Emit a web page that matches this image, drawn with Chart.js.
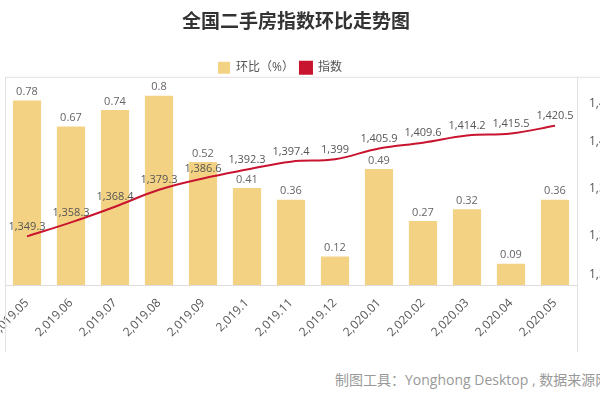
<!DOCTYPE html>
<html>
<head>
<meta charset="utf-8">
<script src="https://cdn.jsdelivr.net/npm/chart.js@4"></script>
<style>
  html, body { margin: 0; padding: 0; background: #fff; overflow: hidden; width: 600px; height: 400px; }
  #wrap { position: absolute; left: -35px; top: 0; width: 662px; height: 357px; }
  #note { position: absolute; left: 335px; top: 369px; white-space: nowrap; font: 14px "Open Sans", "Noto Sans CJK SC", sans-serif; color: #999; }
</style>
</head>
<body>
<div id="wrap"><canvas id="trendChart"></canvas></div>
<div id="note">制图工具：Yonghong Desktop , 数据来源网络</div>
<script>
// categories and series
const months = ['2,019.05', '2,019.06', '2,019.07', '2,019.08', '2,019.09', '2,019.1', '2,019.11',
                '2,019.12', '2,020.01', '2,020.02', '2,020.03', '2,020.04', '2,020.05'];
const momChange = [0.78, 0.67, 0.74, 0.8, 0.52, 0.41, 0.36, 0.12, 0.49, 0.27, 0.32, 0.09, 0.36];
const indexValues = [1349.3, 1358.3, 1368.4, 1379.3, 1386.6, 1392.3, 1397.4, 1399, 1405.9, 1409.6, 1414.2, 1415.5, 1420.5];
const indexTicks = [1325, 1350, 1380, 1410, 1435];

const baseFont = '"Open Sans", "Noto Sans CJK SC", sans-serif';
const barColor = '#F3D283';
const lineColor = '#C8142F';

// the built-in legend keeps 10px of dead space under it; trim it so the plot sits closer,
// and nudge it a little left like the original
const tightLegend = {
    id: 'tightLegend',
    beforeUpdate(chart) {
        const lg = chart.legend;
        if (lg && !lg._trimmed) {
            const fit = lg.fit.bind(lg);
            lg.fit = function () { fit(); this.height -= 7; };
            lg._trimmed = true;
        }
    },
    afterLayout(chart) {
        if (chart.legend) {
            chart.legend.left -= 16;
            chart.legend.right -= 16;
        }
    }
};

// value labels above bars and line points
const valueLabels = {
    id: 'valueLabels',
    afterDatasetsDraw(chart) {
        const ctx = chart.ctx;
        ctx.save();
        ctx.font = '11px ' + baseFont;
        ctx.textAlign = 'center';
        ctx.textBaseline = 'bottom';
        chart.data.datasets.forEach((ds, i) => {
            const meta = chart.getDatasetMeta(i);
            meta.data.forEach((el, j) => {
                const v = ds.data[j];
                if (ds.type === 'line') {
                    ctx.fillStyle = '#555';
                    ctx.fillText(v.toLocaleString('en-US', { maximumFractionDigits: 1 }), el.x, el.y - 4);
                } else {
                    ctx.fillStyle = '#666';
                    ctx.fillText(String(v), el.x, el.y - 3);
                }
            });
        });
        ctx.restore();
    }
};

// light frame lines round the plot
const frameLines = {
    id: 'frameLines',
    beforeDatasetsDraw(chart) {
        const { ctx, chartArea, scales } = chart;
        ctx.save();
        ctx.strokeStyle = '#e2e2e2';
        ctx.lineWidth = 1;
        ctx.beginPath();
        ctx.moveTo(chartArea.left, chartArea.top + 0.5);
        ctx.lineTo(chart.width, chartArea.top + 0.5);
        ctx.moveTo(chartArea.left + 0.5, chartArea.top);
        ctx.lineTo(chartArea.left + 0.5, scales.x.bottom);
        ctx.moveTo(chartArea.right + 0.5, chartArea.top);
        ctx.lineTo(chartArea.right + 0.5, scales.x.bottom);
        ctx.stroke();
        ctx.restore();
    }
};

const ctx = document.getElementById('trendChart').getContext('2d');
new Chart(ctx, {
    data: {
        labels: months,
        datasets: [
            {
                type: 'bar',
                label: '环比（%）',
                data: momChange,
                backgroundColor: barColor,
                yAxisID: 'y',
                barPercentage: 0.64,
                categoryPercentage: 1,
                order: 1
            },
            {
                type: 'line',
                label: '指数',
                data: indexValues,
                borderColor: lineColor,
                backgroundColor: lineColor,
                borderWidth: 2,
                pointRadius: 0,
                tension: 0.4,
                yAxisID: 'y1',
                order: 0
            }
        ]
    },
    options: {
        responsive: true,
        maintainAspectRatio: false,
        animation: false,
        layout: { padding: { top: 11, bottom: 5, left: 0, right: 0 } },
        plugins: {
            title: {
                display: true,
                text: '全国二手房指数环比走势图',
                color: '#333',
                font: { family: baseFont, size: 19, weight: 'bold' },
                padding: { top: 0, bottom: 22 }
            },
            legend: {
                position: 'top',
                labels: {
                    boxWidth: 12,
                    boxHeight: 12,
                    padding: 6,
                    color: '#555',
                    font: { family: baseFont, size: 12 },
                    sort: (a, b) => a.datasetIndex - b.datasetIndex
                }
            },
            tooltip: { enabled: false }
        },
        scales: {
            x: {
                grid: { display: false },
                border: { color: '#ddd' },
                ticks: {
                    color: '#555',
                    font: { family: baseFont, size: 12 },
                    autoSkip: false,
                    maxRotation: 45,
                    minRotation: 45
                },
                afterFit: s => { s.height = 67; }
            },
            y: {
                position: 'left',
                min: 0,
                max: 0.88,
                grid: { display: false },
                border: { display: false },
                ticks: { display: false },
                afterFit: s => { s.width = 40; }
            },
            y1: {
                position: 'right',
                min: 1318,
                max: 1452,
                grid: { display: false },
                border: { display: false },
                ticks: {
                    color: '#555',
                    font: { family: baseFont, size: 12 },
                    padding: 4,
                    callback: v => v.toLocaleString('en-US')
                },
                afterBuildTicks: s => { s.ticks = indexTicks.map(v => ({ value: v })); },
                afterFit: s => { s.width = 50; }
            }
        }
    },
    plugins: [tightLegend, valueLabels, frameLines]
});
</script>
</body>
</html>
